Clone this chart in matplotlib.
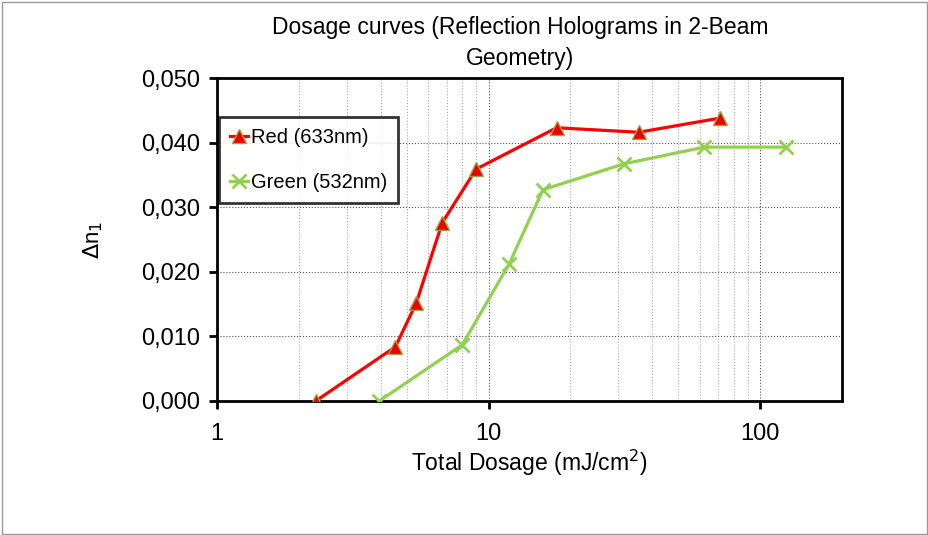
import matplotlib
matplotlib.use("Agg")
import matplotlib.pyplot as plt
from matplotlib.ticker import FixedLocator, FuncFormatter, LogLocator, NullFormatter
from matplotlib.patches import Rectangle

plt.rcParams['font.family'] = ['Liberation Sans', 'DejaVu Sans']

# data
red_dose = [2.31, 4.54, 5.42, 6.75, 9.0, 17.8, 35.7, 71.3]
red_dn = [0.0, 0.0084, 0.0152, 0.0276, 0.0359, 0.0423, 0.0416, 0.0438]
green_dose = [3.96, 8.0, 11.9, 15.85, 31.4, 62.3, 124.6]
green_dn = [0.0, 0.0087, 0.0212, 0.0327, 0.0367, 0.0393, 0.0393]
y_ticks = [0.0, 0.01, 0.02, 0.03, 0.04, 0.05]

fig = plt.figure(figsize=(9.29, 5.35), dpi=100)
ax = fig.add_axes([217 / 929, 1 - 401 / 535, (842 - 217) / 929, (401 - 78) / 535])

fig.patches.append(Rectangle((0.002, 0.002), 0.996, 0.994, transform=fig.transFigure,
                             fill=False, edgecolor='#999999', linewidth=1))

ax.plot(red_dose, red_dn, color='#ff0000', linewidth=2.3, marker='^', markersize=10,
        markerfacecolor='#ee0000', markeredgecolor='#a0a040', markeredgewidth=1,
        label='Red (633nm)', zorder=3)
ax.plot(green_dose, green_dn, color='#92d050', linewidth=2.3, marker='x', markersize=10,
        markeredgewidth=2, label='Green (532nm)', zorder=3)

ax.set_xscale('log')
ax.set_xlim(1, 200)
ax.set_ylim(0, 0.05)
ax.yaxis.set_major_locator(FixedLocator(y_ticks))
ax.yaxis.set_major_formatter(FuncFormatter(lambda v, p: ('%.3f' % v).replace('.', ',')))
ax.xaxis.set_major_locator(FixedLocator([1, 10, 100]))
ax.xaxis.set_major_formatter(FuncFormatter(lambda v, p: '%d' % v))
ax.xaxis.set_minor_locator(LogLocator(base=10, subs=range(2, 10)))
ax.xaxis.set_minor_formatter(NullFormatter())

ax.grid(True, which='major', axis='both', color='#555555', linestyle=':', linewidth=0.8)
ax.grid(True, which='minor', axis='x', color='#aaaaaa', linestyle=':', linewidth=0.8)

for s in ax.spines.values():
    s.set_linewidth(2)
    s.set_color('black')

ax.tick_params(axis='both', which='major', labelsize=17, length=6, width=2, direction='out')
ax.tick_params(axis='x', which='minor', length=0)
ax.tick_params(axis='x', pad=10)
ax.tick_params(axis='y', pad=6)

ax.set_xlabel('Total Dosage (mJ/cm$^2$)', fontsize=16.5, labelpad=2)
ax.set_ylabel(r'$\Delta$n$_1$', fontsize=16, labelpad=26)
fig.text(520 / 929, 1 - 16 / 535, 'Dosage curves (Reflection Holograms in 2-Beam\nGeometry)',
         ha='center', va='top', fontsize=16.5, linespacing=1.45)

leg = ax.legend(loc='upper left', bbox_to_anchor=(0.003, 0.879), fontsize=14.5, frameon=True,
                fancybox=False, edgecolor='black', labelspacing=1.3, handlelength=0.9,
                handletextpad=0.15, borderpad=0.55, borderaxespad=0.0)
leg.get_frame().set_linewidth(2)

fig.savefig('out.png', dpi=100)
